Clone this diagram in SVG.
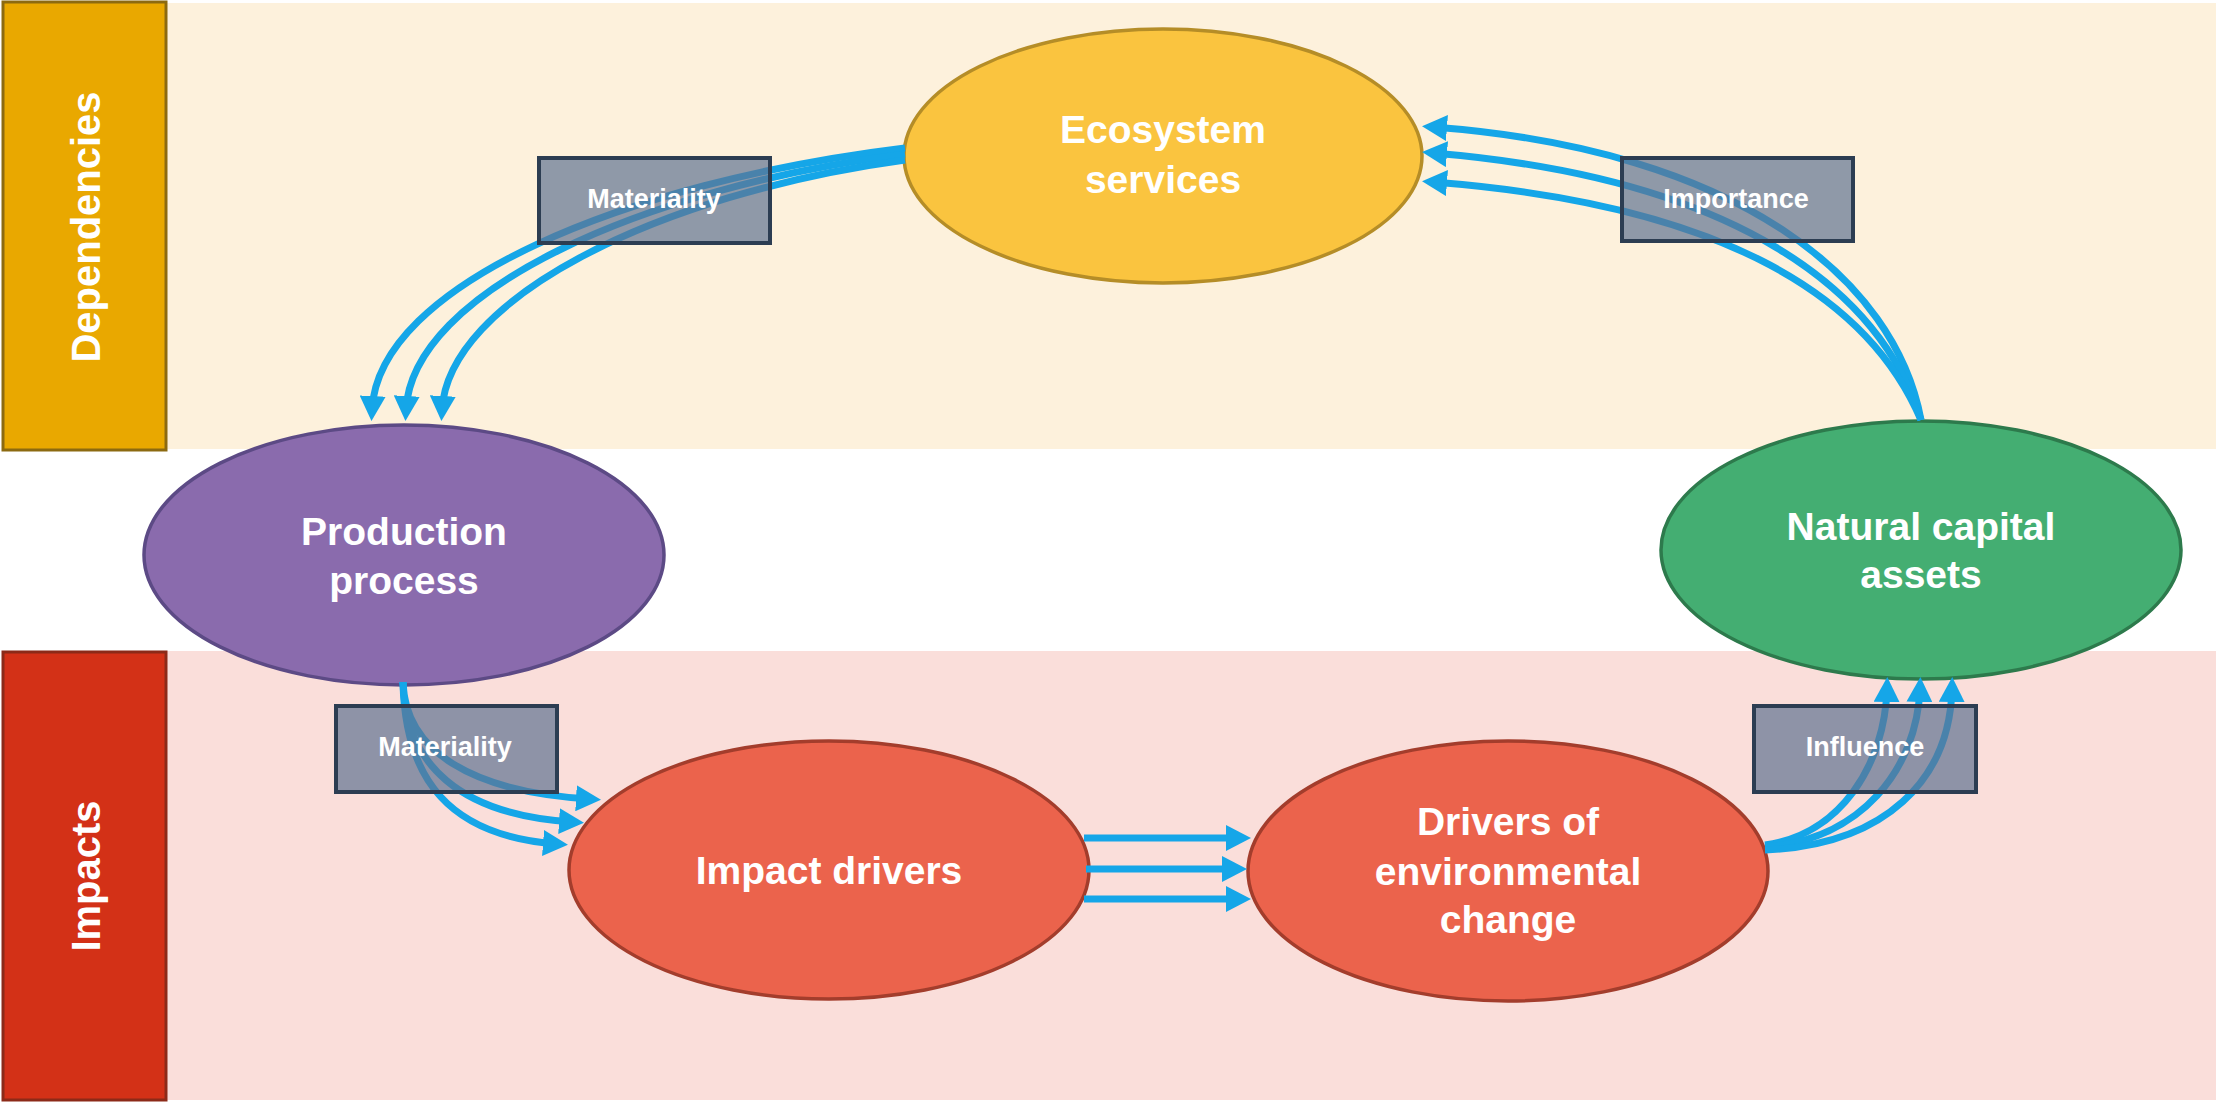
<svg xmlns="http://www.w3.org/2000/svg" width="2216" height="1103" viewBox="0 0 2216 1103">
<style>
.band-top{fill:#FDF1DC;}
.band-bot{fill:#FADEDA;}
.side{stroke-width:3;}
.node{stroke-width:3.5;}
.nt{font-family:"Liberation Sans",Arial,sans-serif;font-weight:bold;font-size:39px;fill:#FFFFFF;text-anchor:middle;}
.st{font-family:"Liberation Sans",Arial,sans-serif;font-weight:bold;font-size:40px;fill:#FFFFFF;text-anchor:middle;}
.lb{fill:#5F7492;fill-opacity:0.7;stroke:#2C3D52;stroke-width:4;}
.lt{font-family:"Liberation Sans",Arial,sans-serif;font-weight:bold;font-size:27px;fill:#FFFFFF;text-anchor:middle;}
.cn{fill:none;stroke:#15A6E8;stroke-width:7;marker-end:url(#ah);}
</style>
<defs>
<marker id="ah" markerUnits="userSpaceOnUse" markerWidth="26" markerHeight="26" viewBox="0 0 26 26" refX="14" refY="13" orient="auto">
<path d="M0,0 L25,13 L0,26 z" fill="#15A6E8"/>
</marker>
</defs>
<rect x="0" y="0" width="2216" height="1103" fill="#FFFFFF"/>
<g id="bands">
<rect class="band-top" x="166" y="3" width="2050" height="446"/>
<rect class="band-bot" x="166" y="651" width="2050" height="449"/>
</g>
<g id="dependencies">
<rect class="side" x="3" y="2" width="163" height="448" fill="#E9A800" stroke="#8C6A10"/>
<text class="st" transform="translate(100,227) rotate(-90)">Dependencies</text>
</g>
<g id="impacts">
<rect class="side" x="3" y="652" width="163" height="448" fill="#D33117" stroke="#8C2A18"/>
<text class="st" transform="translate(100,876) rotate(-90)">Impacts</text>
</g>
<g id="ecosystem-services">
<ellipse class="node" cx="1163" cy="156" rx="259" ry="127" fill="#FAC43F" stroke="#B58D27"/>
<text class="nt" x="1163" y="143">Ecosystem</text>
<text class="nt" x="1163" y="193">services</text>
</g>
<g id="production-process">
<ellipse class="node" cx="404" cy="555" rx="260" ry="130" fill="#8A6BAD" stroke="#5C4A85"/>
<text class="nt" x="404" y="545">Production</text>
<text class="nt" x="404" y="594">process</text>
</g>
<g id="natural-capital-assets">
<ellipse class="node" cx="1921" cy="550" rx="260" ry="129" fill="#44AE72" stroke="#2D7A4C"/>
<text class="nt" x="1921" y="540">Natural capital</text>
<text class="nt" x="1921" y="588">assets</text>
</g>
<g id="impact-drivers">
<ellipse class="node" cx="829" cy="870" rx="260" ry="129" fill="#EB634C" stroke="#A33D2C"/>
<text class="nt" x="829" y="884">Impact drivers</text>
</g>
<g id="drivers-of-environmental-change">
<ellipse class="node" cx="1508" cy="871" rx="260" ry="130" fill="#EB634C" stroke="#A33D2C"/>
<text class="nt" x="1508" y="835">Drivers of</text>
<text class="nt" x="1508" y="885">environmental</text>
<text class="nt" x="1508" y="933">change</text>
</g>
<g id="connectors">
<path class="cn" d="M905,148 C625,182 378,285 372,410"/>
<path class="cn" d="M905,154 C640,188 412,292 406,410"/>
<path class="cn" d="M905,160 C655,194 448,300 442,410"/>
<path class="cn" d="M1921,420 C1895,280 1740,150 1433,127"/>
<path class="cn" d="M1921,420 C1882,290 1735,178 1433,153"/>
<path class="cn" d="M1921,420 C1870,300 1730,205 1433,182"/>
<path class="cn" d="M403,682 C405,750 470,792 590,799"/>
<path class="cn" d="M403,682 C405,765 460,815 573,822"/>
<path class="cn" d="M403,682 C405,780 450,836 557,844"/>
<path class="cn" d="M1084,838 L1240,838"/>
<path class="cn" d="M1086,869 L1236,869"/>
<path class="cn" d="M1084,899 L1240,899"/>
<path class="cn" d="M1765,845 C1840,835 1885,765 1887,688"/>
<path class="cn" d="M1765,847 C1860,840 1917,770 1920,688"/>
<path class="cn" d="M1765,850 C1885,845 1950,780 1952,688"/>
</g>
<g id="label-materiality-top">
<rect class="lb" x="539" y="158" width="231" height="85"/>
<text class="lt" x="654" y="208">Materiality</text>
</g>
<g id="label-importance">
<rect class="lb" x="1622" y="158" width="231" height="83"/>
<text class="lt" x="1736" y="208">Importance</text>
</g>
<g id="label-materiality-bottom">
<rect class="lb" x="336" y="706" width="221" height="86"/>
<text class="lt" x="445" y="756">Materiality</text>
</g>
<g id="label-influence">
<rect class="lb" x="1754" y="706" width="222" height="86"/>
<text class="lt" x="1865" y="756">Influence</text>
</g>
</svg>
